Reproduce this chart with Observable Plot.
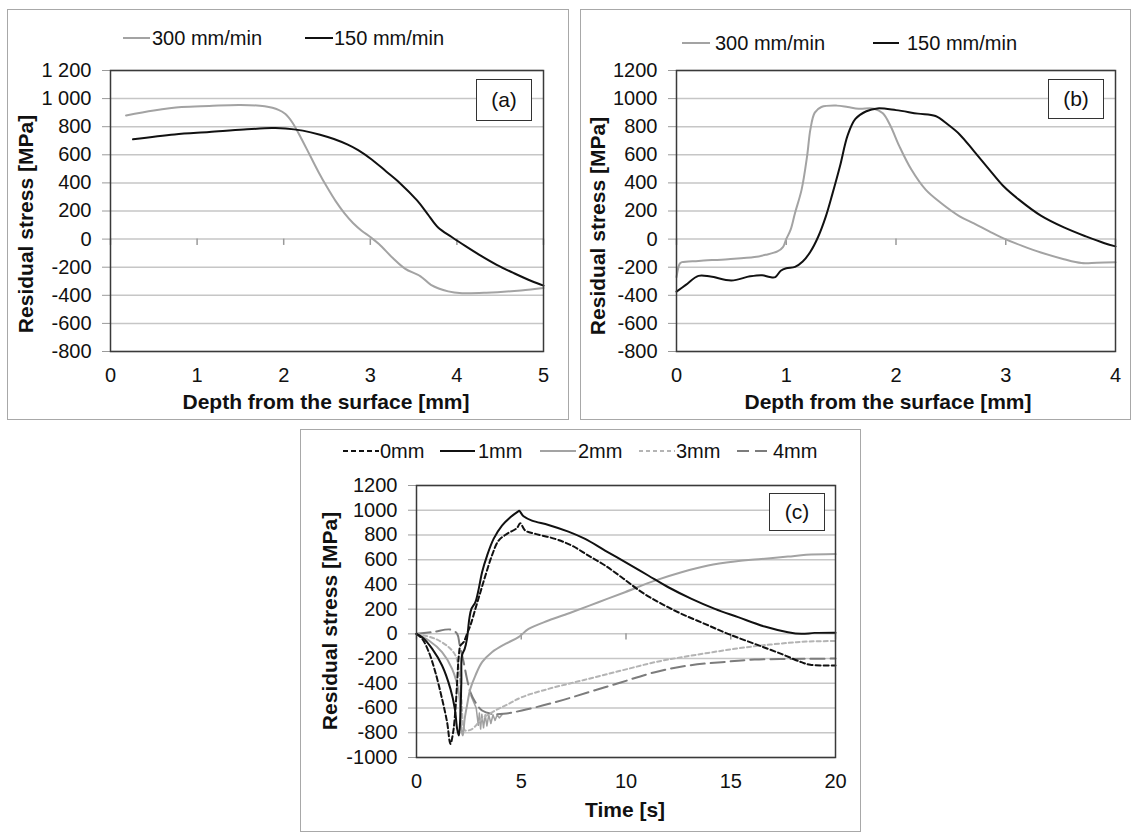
<!DOCTYPE html>
<html><head><meta charset="utf-8">
<script src="https://cdn.jsdelivr.net/npm/d3@7"></script>
<script src="https://cdn.jsdelivr.net/npm/@observablehq/plot@0.6"></script>
<style>
body{margin:0;background:#fff;font-family:"Liberation Sans",Arial,sans-serif;}
#page{position:relative;width:1133px;height:834px;overflow:hidden;background:#fff;}
.box{position:absolute;border:1.5px solid #a8a8a8;box-sizing:border-box;z-index:3;}
.pl{position:absolute;z-index:1;}
.title{position:absolute;font-weight:bold;font-size:21px;white-space:nowrap;color:#111;z-index:2;transform:translate(-50%,-50%);}
.ytitle{transform:translate(-50%,-50%) rotate(-90deg);}
.lg{position:absolute;font-size:20px;white-space:nowrap;color:#111;line-height:1;transform:translateY(-50%);z-index:2;}
.lgl{position:absolute;z-index:2;overflow:visible;}
.tag{position:absolute;border:1.5px solid #333;box-sizing:border-box;font-size:21px;display:flex;align-items:center;justify-content:center;background:#fff;z-index:2;color:#111;}
</style></head>
<body><div id="page"></div>
<script>
// ---------- data ----------
// Panel (a): depth [mm] vs residual stress [MPa]
const a300 = [[0.18,880],[0.5,915],[0.82,940],[1.14,948],[1.5,955],[1.78,945],[1.94,920],[2.02,890],[2.1,830],[2.2,720],[2.3,600],[2.4,480],[2.5,370],[2.6,270],[2.7,185],[2.8,115],[2.9,60],[3.0,15],[3.1,-35],[3.26,-135],[3.4,-210],[3.58,-265],[3.7,-325],[3.9,-372],[4.06,-385],[4.34,-382],[4.74,-365],[5.0,-348]];
const a150 = [[0.26,710],[0.74,745],[1.14,762],[1.54,780],[1.86,790],[2.02,788],[2.22,772],[2.42,743],[2.58,712],[2.74,672],[2.86,633],[3.02,565],[3.18,483],[3.34,400],[3.54,275],[3.66,180],[3.78,85],[3.94,15],[4.1,-50],[4.26,-112],[4.46,-183],[4.66,-243],[4.86,-298],[5.0,-331]];
// Panel (b)
const b300 = [[0,-270],[0.03,-175],[0.05,-164],[0.2,-155],[0.47,-143],[0.71,-128],[0.81,-112],[0.92,-88],[0.97,-57],[1.0,0],[1.04,67],[1.08,186],[1.14,352],[1.19,590],[1.22,781],[1.26,900],[1.32,940],[1.46,950],[1.56,940],[1.66,928],[1.8,928],[1.88,895],[1.95,805],[2.03,662],[2.14,495],[2.27,352],[2.41,257],[2.58,162],[2.71,112],[2.85,55],[2.98,5],[3.15,-48],[3.32,-95],[3.53,-143],[3.69,-170],[3.83,-168],[4.0,-165]];
const b150 = [[0,-374],[0.085,-326],[0.2,-262],[0.31,-267],[0.5,-295],[0.67,-265],[0.78,-257],[0.85,-270],[0.9,-270],[0.95,-225],[1.0,-207],[1.08,-198],[1.15,-160],[1.22,-90],[1.29,15],[1.36,160],[1.42,320],[1.49,520],[1.56,740],[1.63,855],[1.73,910],[1.83,930],[2.0,918],[2.2,893],[2.36,876],[2.47,817],[2.58,745],[2.71,626],[2.85,495],[2.98,376],[3.12,281],[3.32,167],[3.53,83],[3.73,19],[3.9,-29],[4.0,-52]];
// Panel (c): time [s] vs residual stress [MPa]
const c0mm = [[0,0],[0.27,-40],[0.59,-148],[0.9,-310],[1.22,-526],[1.46,-714],[1.62,-890],[1.75,-795],[1.86,-606],[1.94,-391],[2.02,-175],[2.1,-94],[2.25,-67],[2.41,0],[2.57,67],[2.81,202],[3.05,337],[3.29,472],[3.6,633],[3.92,755],[4.32,809],[4.79,855],[4.95,895],[5.19,836],[5.67,809],[6.62,768],[7.41,714],[8.21,633],[9.0,553],[9.79,458],[10.75,337],[11.7,243],[12.65,162],[13.76,81],[14.87,0],[16.14,-81],[17.41,-162],[18.37,-229],[18.8,-250],[20,-255]];
const c1mm = [[0,0],[0.27,-27],[0.75,-121],[1.22,-256],[1.62,-445],[1.83,-606],[1.94,-768],[2.02,-822],[2.08,-714],[2.14,-391],[2.17,-175],[2.3,-121],[2.41,-40],[2.52,121],[2.62,202],[2.81,256],[2.97,364],[3.13,499],[3.37,633],[3.68,768],[4.08,876],[4.48,943],[4.84,989],[4.9,995],[5.11,951],[5.51,916],[6.3,881],[7.25,827],[8.05,768],[9.0,674],[10.11,566],[11.06,472],[12.02,377],[13.13,283],[14.24,202],[15.35,135],[16.62,59],[17.73,13],[18.37,0],[19,8],[20,10]];
const c2mm = [[0,0],[0.59,-54],[1.22,-148],[1.7,-283],[2.02,-472],[2.14,-768],[2.21,-822],[2.3,-687],[2.41,-580],[2.57,-445],[2.81,-337],[3.13,-229],[3.6,-148],[4.24,-81],[4.87,-27],[5.35,40],[6.3,108],[7.41,175],[8.68,256],[9.95,337],[11.38,431],[12.65,499],[13.92,553],[15.19,585],[16.46,606],[17.73,625],[18.6,639],[20,645]];
const c3mm = [[0,0],[0.9,-40],[1.54,-108],[1.86,-175],[2.02,-283],[2.14,-520],[2.25,-760],[2.33,-782],[2.65,-770],[3.13,-687],[3.76,-620],[4.4,-566],[5.03,-512],[6.3,-445],[7.57,-391],[8.84,-337],[10.1,-283],[11.38,-229],[12.65,-189],[13.92,-154],[15.19,-121],[16.46,-94],[17.73,-73],[18.6,-62],[20,-58]];
const c4mm = [[0,0],[0.8,15],[1.62,35],[1.94,0],[2.05,-80],[2.14,-148],[2.25,-229],[2.41,-364],[2.57,-472],[2.81,-553],[3.13,-620],[3.6,-647],[4.16,-647],[5.03,-620],[6.62,-553],[8.21,-472],[9.79,-391],[11.38,-310],[12.97,-256],[14.56,-229],[16.14,-208],[18.6,-202],[20,-200]];
const c4mmNoise = [[2.6,-500],[2.7,-540],[2.85,-600],[2.95,-740],[3.0,-640],[3.06,-770],[3.12,-650],[3.2,-760],[3.28,-655],[3.36,-745],[3.45,-655],[3.55,-725],[3.65,-655],[3.75,-700],[3.85,-655],[3.95,-680],[4.1,-650]];

// ticks
const yTicksAB = [-800,-600,-400,-200,0,200,400,600,800,1000,1200];
const xTicksA = [0,1,2,3,4,5];
const xTicksB = [0,1,2,3,4];
const yTicksC = [-1000,-800,-600,-400,-200,0,200,400,600,800,1000,1200];
const xTicksC = [0,5,10,15,20];

// labels
const legendAB = ["300 mm/min","150 mm/min"];
const legendC = ["0mm","1mm","2mm","3mm","4mm"];

// ---------- helpers ----------
const page = document.getElementById("page");
const fmtSpace = d => { const s = String(Math.abs(d)); const t = s.length > 3 ? s.slice(0,-3) + " " + s.slice(-3) : s; return (d < 0 ? "-" : "") + t; };
const fmtPlain = d => String(d);

function panel({left, top, width, height, mL, mR, mT, mB, xDomain, yDomain, xTicks, yTicks, fmtY, tickLen, series}) {
  const marks = [
    Plot.gridY(yTicks, {stroke: "#c6c6c6", strokeOpacity: 1, strokeWidth: 1.5}),
    Plot.ruleX(xTicks, {y1: 0, y2: -tickLen, stroke: "#9a9a9a", strokeWidth: 1.5}),
    Plot.axisY(yTicks, {tickSize: 8, tickPadding: 11, tickFormat: fmtY, stroke: "#9a9a9a", label: null, fontSize: 20}),
    Plot.axisX(xTicks, {tickSize: 0, tickPadding: 16, tickFormat: fmtPlain, label: null, fontSize: 20}),
    ...series.map(s => Plot.line(s.data, {x: d => d[0], y: d => d[1], stroke: s.color, strokeWidth: s.w || 2, strokeDasharray: s.dash, curve: s.curve || "catmull-rom"})),
    Plot.frame({stroke: "#3a3a3a", strokeWidth: 1.5})
  ];
  const svg = Plot.plot({
    width, height, marginLeft: mL, marginRight: mR, marginTop: mT, marginBottom: mB,
    x: {domain: xDomain}, y: {domain: yDomain},
    style: {fontFamily: "'Liberation Sans', Arial, sans-serif", fontSize: "20px", color: "#111", background: "none", overflow: "visible"},
    marks
  });
  svg.classList.add("pl");
  svg.style.left = left + "px"; svg.style.top = top + "px";
  page.appendChild(svg);
}
function box(l, t, r, b) {
  const d = document.createElement("div"); d.className = "box";
  Object.assign(d.style, {left: l + "px", top: t + "px", width: (r - l) + "px", height: (b - t) + "px"});
  page.appendChild(d);
}
function title(text, cx, cy, vertical) {
  const d = document.createElement("div"); d.className = "title" + (vertical ? " ytitle" : "");
  d.textContent = text; d.style.left = cx + "px"; d.style.top = cy + "px"; page.appendChild(d);
}
function tag(text, l, t, r, b) {
  const d = document.createElement("div"); d.className = "tag"; d.textContent = text;
  Object.assign(d.style, {left: l + "px", top: t + "px", width: (r - l) + "px", height: (b - t) + "px"});
  page.appendChild(d);
}
function legendItem(text, x1, x2, tx, y, color, dash) {
  const ns = "http://www.w3.org/2000/svg";
  const s = document.createElementNS(ns, "svg"); s.setAttribute("class", "lgl");
  s.setAttribute("width", x2 - x1); s.setAttribute("height", 6);
  s.style.left = x1 + "px"; s.style.top = (y - 3) + "px";
  const ln = document.createElementNS(ns, "line");
  ln.setAttribute("x1", 0); ln.setAttribute("x2", x2 - x1); ln.setAttribute("y1", 3); ln.setAttribute("y2", 3);
  ln.setAttribute("stroke", color); ln.setAttribute("stroke-width", 2);
  if (dash) ln.setAttribute("stroke-dasharray", dash);
  s.appendChild(ln); page.appendChild(s);
  const d = document.createElement("div"); d.className = "lg"; d.textContent = text;
  d.style.left = tx + "px"; d.style.top = y + "px"; page.appendChild(d);
}

const GRAY = "#a3a3a3", BLACK = "#111", LGRAY = "#b4b4b4", DGRAY = "#7c7c7c";

// ---------- panel (a) ----------
panel({left: 7, top: 9, width: 561, height: 410, mL: 103, mR: 25, mT: 61, mB: 68,
  xDomain: [0,5], yDomain: [-800,1200], xTicks: xTicksA, yTicks: yTicksAB, fmtY: fmtSpace, tickLen: 45,
  series: [{data: a300, color: GRAY}, {data: a150, color: BLACK}]});
box(7, 9, 569, 420);
legendItem(legendAB[0], 123, 150, 152, 38, GRAY);
legendItem(legendAB[1], 305, 333, 334, 38, BLACK);
tag("(a)", 476, 79, 532, 121);
title("Residual stress [MPa]", 26, 224, true);
title("Depth from the surface [mm]", 326, 402, false);

// ---------- panel (b) ----------
panel({left: 580, top: 9, width: 551, height: 410, mL: 96, mR: 16, mT: 61, mB: 68,
  xDomain: [0,4], yDomain: [-800,1200], xTicks: xTicksB, yTicks: yTicksAB, fmtY: fmtPlain, tickLen: 45,
  series: [{data: b300, color: GRAY}, {data: b150, color: BLACK}]});
box(580, 9, 1131, 420);
legendItem(legendAB[0], 682, 710, 715, 43, GRAY);
legendItem(legendAB[1], 873, 899, 907, 43, BLACK);
tag("(b)", 1048, 79, 1104, 119);
title("Residual stress [MPa]", 598, 226, true);
title("Depth from the surface [mm]", 888, 402, false);

// ---------- panel (c) ----------
panel({left: 300, top: 429, width: 560, height: 403, mL: 116, mR: 25, mT: 56, mB: 75,
  xDomain: [0,20], yDomain: [-1000,1200], xTicks: xTicksC, yTicks: yTicksC, fmtY: fmtPlain, tickLen: 50,
  series: [
    {data: c4mmNoise, color: "#a0a0a0", w: 1.5, curve: "linear"},
    {data: c4mm, color: DGRAY, dash: "14,6"},
    {data: c3mm, color: LGRAY, dash: "4,3"},
    {data: c2mm, color: GRAY},
    {data: c1mm, color: BLACK},
    {data: c0mm, color: BLACK, dash: "5,3"}
  ]});
box(300, 429, 861, 832);
legendItem(legendC[0], 343, 379, 380, 451, BLACK, "5,3");
legendItem(legendC[1], 440, 475, 478, 451, BLACK);
legendItem(legendC[2], 540, 576, 578, 451, GRAY);
legendItem(legendC[3], 639, 675, 676, 451, LGRAY, "4,3");
legendItem(legendC[4], 737, 772, 773, 451, DGRAY, "12,6");
tag("(c)", 769, 493, 825, 531);
title("Residual stress [MPa]", 330, 621, true);
title("Time [s]", 625, 810, false);
</script>
</body></html>
